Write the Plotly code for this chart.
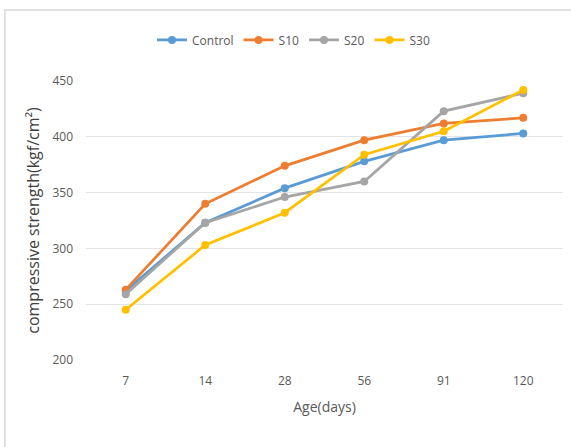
import plotly.graph_objects as go

ages = ["7", "14", "28", "56", "91", "120"]
control = [262, 323, 354, 378, 397, 403]
s10 = [263, 340, 374, 397, 412, 417]
s20 = [259, 323, 346, 360, 423, 439]
s30 = [245, 303, 332, 384, 405, 442]
y_ticks = [200, 250, 300, 350, 400, 450]

series = [("Control", control, "#5B9BD5"), ("S10", s10, "#ED7D31"),
          ("S20", s20, "#A5A5A5"), ("S30", s30, "#FFC000")]

fig = go.Figure()
for name, vals, col in series:
    fig.add_trace(go.Scatter(x=ages, y=vals, name=name, mode="lines+markers",
                             line=dict(color=col, width=2.75),
                             marker=dict(color=col, size=8, symbol="circle")))

font_fam = "Open Sans, Liberation Sans, sans-serif"
fig.update_layout(
    width=571, height=447,
    margin=dict(l=86, r=8, t=81, b=87, autoexpand=False),
    paper_bgcolor="white", plot_bgcolor="white",
    font=dict(family=font_fam, color="#595959", size=12),
    legend=dict(orientation="h", x=0.435, xanchor="center", y=1.147, yanchor="middle",
                font=dict(size=12, color="#595959"), itemwidth=30, tracegroupgap=0),
    xaxis=dict(type="category", range=[-0.5, 5.5], showgrid=False, showline=False, ticks="",
               ticklabelstandoff=12,
               title=dict(text="Age(days)", font=dict(size=14, color="#595959"), standoff=14),
               tickfont=dict(size=12, color="#595959")),
    yaxis=dict(range=[200, 450], tickvals=y_ticks, showgrid=True, gridcolor="#E3E3E3",
               gridwidth=1, zeroline=False, showline=False, ticks="",
               ticklabelstandoff=12,
               title=dict(text="compressive strength(kgf/cm²)", font=dict(size=16, color="#404040"), standoff=8),
               tickfont=dict(size=12, color="#595959")),
    shapes=[dict(type="rect", xref="paper", yref="paper", x0=-0.17, x1=1.05, y0=-0.4, y1=1.2545,
                 line=dict(color="#D9D9D9", width=1.5))],
)
fig.write_html("out.html", config={"displayModeBar": False},
               post_script="document.body.style.margin='0';document.body.style.padding='0';")
